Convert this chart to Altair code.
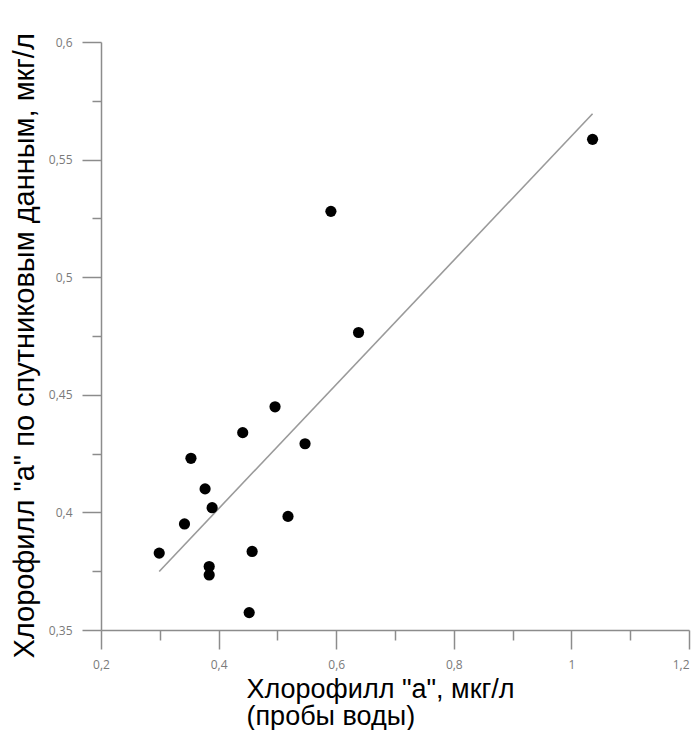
import altair as alt
import pandas as pd

# Data
x_vals = [0.299, 0.342, 0.353, 0.377, 0.389, 0.384, 0.384, 0.441, 0.496,
          0.547, 0.518, 0.457, 0.452, 0.638, 0.591, 1.036]
y_vals = [0.3827, 0.3951, 0.4230, 0.4100, 0.4020, 0.3770, 0.3734, 0.4339,
          0.4449, 0.4292, 0.3983, 0.3834, 0.3574, 0.4765, 0.5280, 0.5586]
fit_x = [0.299, 1.036]
fit_y = [0.3749, 0.5695]

x_major = [0.2, 0.4, 0.6, 0.8, 1.0, 1.2]
x_minor = [0.3, 0.5, 0.7, 0.9, 1.1]
y_major = [0.35, 0.4, 0.45, 0.5, 0.55, 0.6]
y_minor = [0.375, 0.425, 0.475, 0.525, 0.575]

x_title = ["Хлорофилл \"а\", мкг/л", "(пробы воды)"]
y_title = "Хлорофилл \"а\" по спутниковым данным, мкг/л"

pts = pd.DataFrame({"x": x_vals, "y": y_vals})
fit = pd.DataFrame({"x": fit_x, "y": fit_y})

xscale = alt.Scale(domain=[0.2, 1.2], nice=False, zero=False)
yscale = alt.Scale(domain=[0.35, 0.6], nice=False, zero=False)
label_expr = "replace(format(datum.value, '.3~f'), '.', ',')"

AX = "#8c8c8c"
LBL = "#7a7a7a"
common = dict(domainColor=AX, tickColor=AX, domainWidth=1.5, tickWidth=1.5,
              labelColor=LBL, labelFont="Open Sans", labelFontSize=12,
              grid=False, labelOverlap=False, labelFlush=False)

points = alt.Chart(pts).mark_circle(size=125, color="black", opacity=1).encode(
    x=alt.X("x:Q", scale=xscale,
            axis=alt.Axis(values=x_major, tickSize=19, labelPadding=10,
                          labelExpr=label_expr, orient="bottom",
                          labelAlign={"condition": {"test": "datum.value > 1.15",
                                                    "value": "right"},
                                      "value": "center"},
                          title=x_title, titleFont="Liberation Sans",
                          titleFontSize=27, titleFontWeight="normal",
                          titleColor="black", titleAlign="left",
                          titleBaseline="alphabetic", titleX=145, titleY=67,
                          titleLineHeight=27, **common)),
    y=alt.Y("y:Q", scale=yscale,
            axis=alt.Axis(values=y_major, tickSize=19, labelPadding=10,
                          labelExpr=label_expr, orient="left",
                          title=y_title, titleFont="Liberation Sans",
                          titleFontSize=29, titleFontWeight="normal",
                          titleColor="black", titleAngle=270, titleAlign="left",
                          titleBaseline="middle", titleX=-77, titleY=616,
                          **common)),
)

line = alt.Chart(fit).mark_line(color="#9a9a9a", strokeWidth=1.6).encode(
    x=alt.X("x:Q", scale=xscale,
            axis=alt.Axis(values=x_minor, tickSize=10, labels=False,
                          domain=False, orient="bottom", title=None,
                          tickColor=AX, tickWidth=1.5, grid=False)),
    y=alt.Y("y:Q", scale=yscale,
            axis=alt.Axis(values=y_minor, tickSize=9, labels=False,
                          domain=False, orient="left", title=None,
                          tickColor=AX, tickWidth=1.5, grid=False)),
)

chart = alt.layer(line, points).resolve_axis(
    x="independent", y="independent"
).properties(
    width=588, height=588,
    autosize="none",
    padding={"left": 93, "top": 34, "right": 2, "bottom": 100},
).configure_view(stroke=None)

chart.save("out.html", embed_options={"renderer": "svg", "actions": False})
